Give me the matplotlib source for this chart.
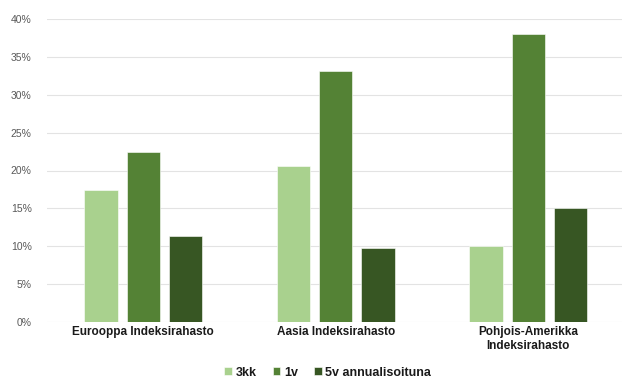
import matplotlib
matplotlib.use("Agg")
import matplotlib.pyplot as plt
import numpy as np

plt.rcParams['font.family'] = ['Liberation Sans', 'DejaVu Sans']

categories = ["Eurooppa Indeksirahasto", "Aasia Indeksirahasto", "Pohjois-Amerikka\nIndeksirahasto"]
series_names = ["3kk", "1v", "5v annualisoituna"]
v_3kk = [0.174, 0.206, 0.100]
v_1v = [0.225, 0.331, 0.380]
v_5v = [0.1135, 0.098, 0.150]
colors = ["#a9d18e", "#548235", "#375623"]
yticks = [0, 0.05, 0.10, 0.15, 0.20, 0.25, 0.30, 0.35, 0.40]
ytick_labels = ["0%", "5%", "10%", "15%", "20%", "25%", "30%", "35%", "40%"]

fig = plt.figure(figsize=(6.22, 3.83), dpi=100)
W, H = 622, 383
left, right, top, bottom = 47, 624.5, 19, 322
ax = fig.add_axes([left / W, (H - bottom) / H, (right - left) / W, (bottom - top) / H])

x = np.arange(len(categories))
width = 0.174
offsets = [-0.22, 0.0, 0.22]
for vals, name, col, off in zip([v_3kk, v_1v, v_5v], series_names, colors, offsets):
    ax.bar(x + off, vals, width=width, color=col, label=name, zorder=3,
           edgecolor="white", linewidth=0.4)

ax.set_xlim(-0.5, 2.5)
ax.set_ylim(0, 0.40)
ax.set_yticks(yticks)
ax.set_yticklabels(ytick_labels, fontsize=7.5, color="#595959")
ax.set_xticks(x)
ax.set_xticklabels(categories, fontsize=8.5, fontweight="bold", color="#1a1a1a")
ax.tick_params(axis="y", length=0, pad=11)
ax.tick_params(axis="x", length=0, pad=3)
ax.yaxis.grid(True, color="#e3e3e3", linewidth=0.8, zorder=0)
ax.set_axisbelow(True)
for s in ax.spines.values():
    s.set_visible(False)

fig.legend(loc="lower center", bbox_to_anchor=(0.527, -0.018), ncol=3, frameon=False,
           handlelength=0.6, handleheight=0.6, handletextpad=0.3, columnspacing=1.3,
           prop={"size": 9, "weight": "bold"}, labelcolor="#1a1a1a")

fig.savefig("out.png", dpi=100)
